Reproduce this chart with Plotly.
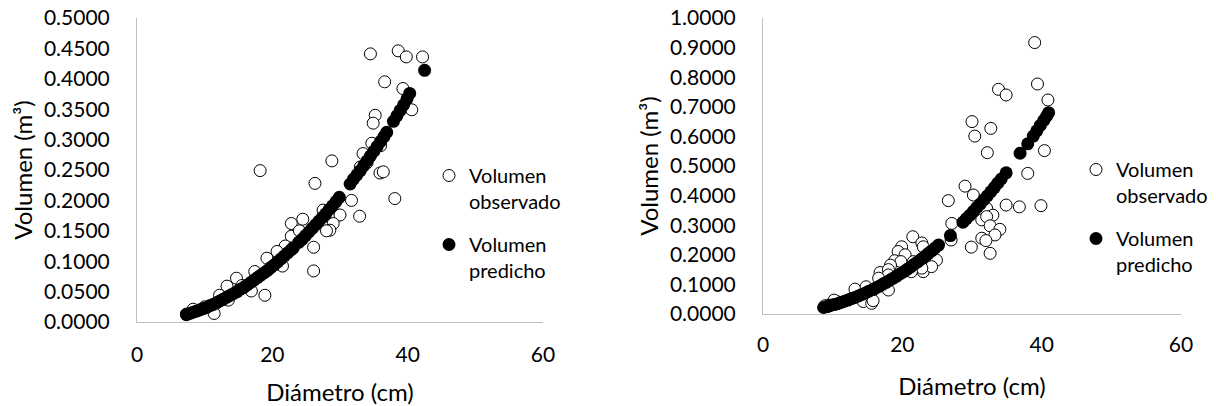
import plotly.graph_objects as go

# ---------------- data ----------------
# Left chart: observed
obs_left_d = [34.5, 38.6, 39.8, 42.2, 36.6, 39.3, 35.2, 34.9, 40.6, 34.7, 33.4, 28.8, 18.2, 26.3,
              35.9, 36.4, 38.1, 31.7, 32.9, 30.0, 29.0, 28.5, 28.0, 27.5, 24.5, 22.8, 22.8, 26.1,
              26.1, 21.9, 20.7, 21.5, 19.2, 18.9, 17.4, 16.9, 14.7, 13.3, 13.5, 12.2, 11.4, 8.3,
              7.3, 10.0, 15.5, 24.0, 33.0, 34.0, 36.0]
obs_left_v = [0.441, 0.446, 0.436, 0.436, 0.395, 0.384, 0.340, 0.327, 0.349, 0.294, 0.277, 0.265,
              0.249, 0.228, 0.245, 0.247, 0.203, 0.200, 0.174, 0.176, 0.162, 0.151, 0.150, 0.184,
              0.169, 0.162, 0.141, 0.123, 0.084, 0.125, 0.116, 0.092, 0.105, 0.044, 0.083, 0.051,
              0.072, 0.059, 0.036, 0.044, 0.014, 0.021, 0.013, 0.025, 0.060, 0.150, 0.255, 0.262,
              0.290]
# Left chart: predicted
pred_left_d = [7.3, 7.8, 8.3, 8.8, 9.3, 9.8, 10.3, 10.8, 11.3, 11.8, 12.3, 12.8, 13.3, 13.8, 14.3,
               14.8, 15.3, 15.8, 16.3, 16.8, 17.3, 17.8, 18.3, 18.8, 19.3, 19.8, 20.3, 20.8, 21.3,
               21.8, 22.3, 22.8, 23.1,
               23.9, 24.4, 24.9, 25.4, 25.9, 26.4, 26.9, 27.4, 27.9, 28.4, 28.9, 29.4, 29.9,
               31.5, 32.0, 32.5, 33.0, 33.5, 34.0, 34.5, 35.0, 35.5, 36.0, 36.5, 36.9,
               37.9, 38.4, 38.9, 39.4, 39.9, 40.3,
               42.5]
pred_left_v = [0.012, 0.014, 0.016, 0.018, 0.020, 0.022, 0.024, 0.027, 0.029, 0.032, 0.035, 0.038,
               0.041, 0.044, 0.047, 0.050, 0.054, 0.057, 0.061, 0.065, 0.069, 0.073, 0.077, 0.081,
               0.085, 0.090, 0.094, 0.099, 0.104, 0.109, 0.114, 0.119, 0.122,
               0.131, 0.136, 0.142, 0.148, 0.154, 0.160, 0.166, 0.172, 0.178, 0.185, 0.191, 0.198,
               0.205,
               0.227, 0.235, 0.242, 0.249, 0.257, 0.265, 0.273, 0.281, 0.289, 0.297, 0.305, 0.312,
               0.330, 0.339, 0.348, 0.357, 0.367, 0.376,
               0.414]

# Right chart: observed
obs_right_d = [39.0, 39.4, 40.9, 33.8, 34.9, 30.0, 30.4, 32.7, 32.2, 40.4, 38.0, 29.0, 26.6, 30.2,
               34.9, 36.8, 39.9, 32.1, 33.0, 31.4, 32.1, 32.6, 34.0, 33.3, 31.4, 32.0, 29.9, 32.6,
               27.1, 27.0,
               21.5, 19.9, 22.8, 23.0, 19.4, 20.4, 18.9, 19.8, 21.6, 18.3, 23.0, 24.9, 24.2, 22.8,
               21.3, 16.8, 18.0, 18.0, 16.6, 13.2, 15.4, 14.8, 15.5, 18.0, 14.4, 15.6, 15.8, 10.6,
               10.2, 9.5, 9.2, 8.9]
obs_right_v = [0.917, 0.777, 0.723, 0.759, 0.740, 0.650, 0.601, 0.627, 0.545, 0.552, 0.475, 0.432,
               0.383, 0.402, 0.368, 0.362, 0.366, 0.357, 0.334, 0.318, 0.329, 0.298, 0.286, 0.267,
               0.256, 0.248, 0.226, 0.205, 0.306, 0.250,
               0.261, 0.227, 0.240, 0.227, 0.211, 0.200, 0.180, 0.177, 0.177, 0.165, 0.143, 0.182,
               0.160, 0.155, 0.143, 0.140, 0.150, 0.132, 0.121, 0.084, 0.081, 0.092, 0.070, 0.081,
               0.042, 0.036, 0.045, 0.042, 0.047, 0.030, 0.025, 0.028]
# Right chart: predicted
pred_right_d = [8.7, 9.2, 9.7, 10.2, 10.7, 11.2, 11.7, 12.2, 12.7, 13.2, 13.7, 14.2, 14.7, 15.2,
                15.7, 16.2, 16.7, 17.2, 17.7, 18.2, 18.7, 19.2, 19.7, 20.2, 20.7, 21.2, 21.7, 22.2,
                22.7, 23.2, 23.7, 24.2, 24.7, 25.2,
                26.9,
                28.7, 29.2, 29.7, 30.2, 30.7, 31.2, 31.7, 32.2, 32.7, 33.2, 33.7, 34.2, 34.9,
                36.9, 38.0,
                38.8, 39.3, 39.8, 40.3, 40.7, 41.0]
pred_right_v = [0.022, 0.025, 0.029, 0.032, 0.035, 0.039, 0.043, 0.047, 0.052, 0.056, 0.061, 0.066,
                0.071, 0.077, 0.082, 0.088, 0.094, 0.101, 0.107, 0.114, 0.121, 0.128, 0.136, 0.143,
                0.151, 0.159, 0.168, 0.176, 0.185, 0.194, 0.204, 0.213, 0.223, 0.233,
                0.265,
                0.310, 0.322, 0.334, 0.347, 0.360, 0.372, 0.386, 0.399, 0.413, 0.427, 0.442, 0.456,
                0.477,
                0.543, 0.575,
                0.601, 0.619, 0.637, 0.654, 0.668, 0.680]

x_ticks = [0, 20, 40, 60]
name_obs = "Volumen<br>observado"
name_pred = "Volumen<br>predicho"

# ---------------- figure ----------------
W, H = 1216, 406
FONT = "Lato"

fig = go.Figure()

obs_marker = dict(symbol="circle", size=12, color="white", line=dict(color="black", width=1))
pred_marker = dict(symbol="circle", size=13, color="black", line=dict(color="black", width=0))

fig.add_trace(go.Scatter(x=obs_left_d, y=obs_left_v, mode="markers", marker=obs_marker,
                         name=name_obs, xaxis="x", yaxis="y", legend="legend",
                         legendgroup="oL"))
fig.add_trace(go.Scatter(x=pred_left_d, y=pred_left_v, mode="markers", marker=pred_marker,
                         name=name_pred, xaxis="x", yaxis="y", legend="legend",
                         legendgroup="pL"))
fig.add_trace(go.Scatter(x=obs_right_d, y=obs_right_v, mode="markers", marker=obs_marker,
                         name=name_obs, xaxis="x2", yaxis="y2", legend="legend2",
                         legendgroup="oR"))
fig.add_trace(go.Scatter(x=pred_right_d, y=pred_right_v, mode="markers", marker=pred_marker,
                         name=name_pred, xaxis="x2", yaxis="y2", legend="legend2",
                         legendgroup="pR"))

axis_line = "#BFBFBF"
tick_font = dict(family=FONT, size=21, color="black")
leg_font = dict(family=FONT, size=20, color="black")
title_font = dict(family=FONT, size=24, color="black")

common_x = dict(range=[0, 60], tickvals=x_ticks, showgrid=False, zeroline=False,
                showline=True, linecolor=axis_line, linewidth=1, ticks="",
                tickfont=tick_font, fixedrange=True, automargin=False)
common_y = dict(showgrid=False, zeroline=False, showline=True, linecolor=axis_line,
                linewidth=1, ticks="", tickfont=tick_font, tickformat=".4f",
                ticklabelstandoff=22, fixedrange=True, automargin=False)

def fx(p):
    return p / W

def fy(p):
    return 1 - p / H

fig.update_layout(
    width=W, height=H,
    margin=dict(l=0, r=0, t=0, b=0),
    paper_bgcolor="white", plot_bgcolor="white",
    font=dict(family=FONT, size=20, color="black"),
    xaxis=dict(**common_x, domain=[fx(137), fx(543)], anchor="y", ticklabelstandoff=14,
               title=dict(text="Diámetro (cm)", font=title_font, standoff=22)),
    yaxis=dict(**common_y, range=[0, 0.5], dtick=0.05, domain=[fy(322), fy(18)], anchor="x",
               title=dict(text="Volumen (m³)", font=title_font, standoff=4)),
    xaxis2=dict(**common_x, domain=[fx(763), fx(1181)], anchor="y2", ticklabelstandoff=12,
                title=dict(text="Diámetro (cm)", font=title_font, standoff=22)),
    yaxis2=dict(**common_y, range=[0, 1.0], dtick=0.1, domain=[fy(314), fy(18)], anchor="x2",
                title=dict(text="Volumen (m³)", font=title_font, standoff=4)),
    legend=dict(x=fx(429), y=fy(156), xanchor="left", yanchor="top", valign="top",
                traceorder="grouped", tracegroupgap=14, font=leg_font,
                bgcolor="rgba(0,0,0,0)", itemclick=False, itemdoubleclick=False),
    legend2=dict(x=fx(1076), y=fy(150), xanchor="left", yanchor="top", valign="top",
                 traceorder="grouped", tracegroupgap=14, font=leg_font,
                 bgcolor="rgba(0,0,0,0)", itemclick=False, itemdoubleclick=False),
    showlegend=True,
)

fig.write_html("out.html", config={"displayModeBar": False},
               post_script="document.body.style.margin='0px';")
